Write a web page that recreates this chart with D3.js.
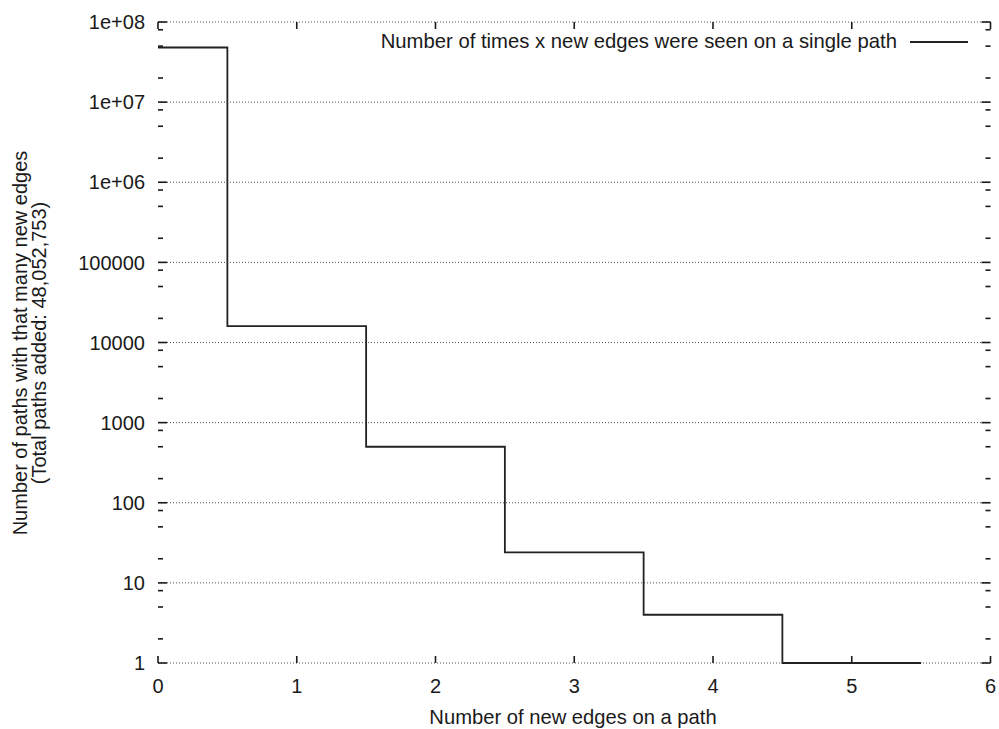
<!DOCTYPE html>
<html>
<head>
<meta charset="utf-8">
<script src="https://cdn.jsdelivr.net/npm/d3@7"></script>
<style>
  html, body { margin: 0; padding: 0; background: #fff; }
  svg { display: block; }
  text { font-family: "Liberation Sans", Arial, Helvetica, sans-serif; fill: #1a1a1a; }
</style>
</head>
<body>
<svg id="chart" width="999" height="729"></svg>
<script>
// ---- data ----
const newEdges = [0, 1, 2, 3, 4, 5];
const pathCounts = [48036224, 16000, 500, 24, 4, 1];
const xTickValues = [0, 1, 2, 3, 4, 5, 6];
const yMajorTicks = [1, 10, 100, 1000, 10000, 100000, 1e6, 1e7, 1e8];
const yTickLabels = ["1", "10", "100", "1000", "10000", "100000", "1e+06", "1e+07", "1e+08"];
const yMinorMultipliers = [2, 5, 8];
const legendLabel = "Number of times x new edges were seen on a single path";
const xTitle = "Number of new edges on a path";
const yTitle1 = "Number of paths with that many new edges";
const yTitle2 = "(Total paths added: 48,052,753)";

// ---- layout ----
const svg = d3.select("#chart");
const x = d3.scaleLinear().domain([0, 6]).range([158, 990.5]);
const y = d3.scaleLog().domain([1, 1e8]).range([663, 22]);
const [x0, x1] = x.range();
const [yb, yt] = y.range();
const ink = "#1a1a1a";
const fs = 20;

// grid (horizontal, dotted, at major ticks)
svg.append("g").selectAll("line").data(yMajorTicks).join("line")
  .attr("x1", x0).attr("x2", x1)
  .attr("y1", d => y(d)).attr("y2", d => y(d))
  .attr("stroke", "#555").attr("stroke-width", 1)
  .attr("stroke-dasharray", "1,2");

// minor ticks
const minors = [];
for (let e = 0; e < 8; e++) for (const m of yMinorMultipliers) minors.push(m * Math.pow(10, e));

const tickG = svg.append("g").attr("stroke", ink).attr("stroke-width", 1.6);
tickG.selectAll(".lmaj").data(yMajorTicks).join("line")
  .attr("x1", x0).attr("x2", x0 + 9).attr("y1", d => y(d)).attr("y2", d => y(d));
tickG.selectAll(".rmaj").data(yMajorTicks).join("line")
  .attr("x1", x1).attr("x2", x1 - 9).attr("y1", d => y(d)).attr("y2", d => y(d));
tickG.selectAll(".lmin").data(minors).join("line")
  .attr("x1", x0).attr("x2", x0 + 5).attr("y1", d => y(d)).attr("y2", d => y(d));
tickG.selectAll(".rmin").data(minors).join("line")
  .attr("x1", x1).attr("x2", x1 - 5).attr("y1", d => y(d)).attr("y2", d => y(d));
tickG.selectAll(".bt").data(xTickValues).join("line")
  .attr("x1", d => x(d)).attr("x2", d => x(d)).attr("y1", yb).attr("y2", yb - 7);
tickG.selectAll(".tt").data(xTickValues).join("line")
  .attr("x1", d => x(d)).attr("x2", d => x(d)).attr("y1", yt).attr("y2", yt + 7);

// y tick labels
svg.append("g").selectAll("text").data(yMajorTicks).join("text")
  .attr("x", 145).attr("y", d => y(d)).attr("dy", "0.36em")
  .attr("text-anchor", "end").attr("font-size", fs)
  .text((d, i) => yTickLabels[i]);

// x tick labels
svg.append("g").selectAll("text").data(xTickValues).join("text")
  .attr("x", d => x(d)).attr("y", 693)
  .attr("text-anchor", "middle").attr("font-size", fs)
  .text(d => d);

// step line (histogram steps, centred on each x, clipped to domain)
const stepPts = [];
newEdges.forEach((e, i) => {
  stepPts.push([Math.max(0, e - 0.5), pathCounts[i]]);
  stepPts.push([e + 0.5, pathCounts[i]]);
});
svg.append("path")
  .datum(stepPts)
  .attr("fill", "none").attr("stroke", "#222").attr("stroke-width", 1.8)
  .attr("d", d3.line().x(d => x(d[0])).y(d => y(d[1])));

// legend
svg.append("text").attr("x", 897).attr("y", 48)
  .attr("text-anchor", "end").attr("font-size", 20.3).text(legendLabel);
svg.append("line").attr("x1", 910).attr("x2", 968).attr("y1", 42).attr("y2", 42)
  .attr("stroke", "#222").attr("stroke-width", 1.8);

// axis titles
svg.append("text").attr("x", 573).attr("y", 724)
  .attr("text-anchor", "middle").attr("font-size", 20.2).text(xTitle);
svg.append("text").attr("transform", "translate(27,343) rotate(-90)")
  .attr("text-anchor", "middle").attr("font-size", fs).text(yTitle1);
svg.append("text").attr("transform", "translate(46,343) rotate(-90)")
  .attr("text-anchor", "middle").attr("font-size", fs).text(yTitle2);
</script>
</body>
</html>
